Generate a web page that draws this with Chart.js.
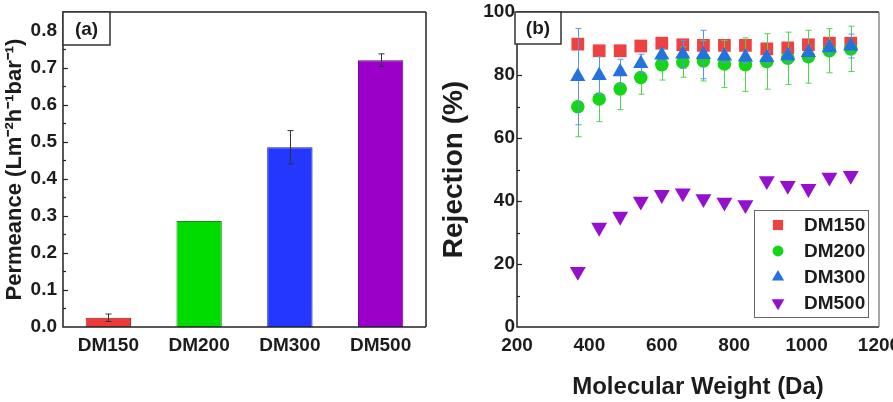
<!DOCTYPE html>
<html>
<head>
<meta charset="utf-8">
<script src="https://cdn.jsdelivr.net/npm/chart.js@4.4.0/dist/chart.umd.min.js"></script>
<style>
  html, body { margin: 0; padding: 0; background: #fff; }
  #wrap { position: relative; width: 893px; height: 402px; overflow: hidden; }
  .panel { position: absolute; top: 0; height: 402px; }
  #panelA { left: 0; width: 440px; }
  #panelB { left: 440px; width: 453px; }
</style>
</head>
<body>
<div id="wrap">
  <div class="panel" id="panelA"><canvas id="chartA"></canvas></div>
  <div class="panel" id="panelB"><canvas id="chartB"></canvas></div>
</div>
<script>
// ---- panel (a): permeance bars ----
const membranes = ["DM150", "DM200", "DM300", "DM500"];
const permeance = [0.025, 0.286, 0.485, 0.72];
const permeanceErr = [0.01, 0, 0.045, 0.017];
const permTicks = [0, 0.1, 0.2, 0.3, 0.4, 0.5, 0.6, 0.7, 0.8];

// ---- panel (b): rejection vs molecular weight ----
const molWeight = [368, 427, 485, 542, 600, 658, 715, 773, 831, 890, 948, 1005, 1063, 1122];
const rejDM150 = [89.8, 87.7, 87.7, 89.2, 90.1, 89.6, 89.4, 89.4, 89.4, 88.3, 88.6, 89.6, 90.1, 90.1];
const rejDM200 = [69.9, 72.4, 75.6, 79.2, 83.3, 84.1, 84.5, 83.5, 83.3, 84.3, 85.3, 85.8, 87.7, 88.3];
const rejDM300 = [79.5, 79.8, 81.0, 83.6, 86.3, 86.6, 86.5, 86.0, 85.7, 85.5, 86.1, 87.1, 88.6, 89.2];
const rejDM500 = [17.6, 31.6, 35.1, 39.9, 42.0, 42.5, 40.7, 39.6, 38.8, 46.4, 44.9, 43.9, 47.5, 48.1];
const errDM150 = [1, 1, 1, 1, 1, 1, 1, 1, 1, 1, 1, 1, 1, 1];
const errDM200 = [9.5, 7.2, 6.6, 5.3, 4.9, 4.8, 6.4, 7.5, 8.5, 8.8, 8.3, 8.4, 7.0, 7.2];
const errDM300 = [15.3, 6, 4, 3, 2, 4.4, 7.7, 2, 2, 2, 2, 2, 2, 3.8];
const mwTicks = [200, 400, 600, 800, 1000, 1200];
const rejTicks = [0, 20, 40, 60, 80, 100];

// ---- look ----
const FONT = '"Liberation Sans", Arial, sans-serif';
const INK = "#1c1c1c";
const barFill = ["#ee3a3a", "#00dc00", "#2337ff", "#9a00c8"];
const barEdge = ["#a82020", "#109010", "#1a2599", "#5e0080"];
const SERIES = {
  DM150: { color: "#ee4242", err: "#f07070", style: "rect", radius: 9, rot: 0 },
  DM200: { color: "#14d614", err: "#4fd64f", style: "circle", radius: 6.8, rot: 0 },
  DM300: { color: "#2473dc", err: "#5a96e4", style: "triangle", radius: 8.8, rot: 0 },
  DM500: { color: "#9410cc", err: "#9410cc", style: "triangle", radius: 9.2, rot: 180 },
};
const bold = (size, lineHeight) => ({ family: FONT, size, weight: "bold", lineHeight: lineHeight || 1.2 });

//-------------------------------------
// Plugins
//-------------------------------------
// frame, inward y ticks, panel tag
const framePlugin = {
  id: "frame",
  afterDraw(chart, args, o) {
    const { ctx, chartArea: ca } = chart;
    const y = chart.scales.y;
    ctx.save();
    ctx.lineWidth = 1.5;
    ctx.strokeStyle = "#222";
    ctx.beginPath();
    ctx.moveTo(ca.right, ca.top);
    ctx.lineTo(ca.left, ca.top);
    ctx.lineTo(ca.left, ca.bottom);
    ctx.lineTo(ca.right, ca.bottom);
    ctx.stroke();
    ctx.strokeStyle = o.rightColor || "#222";
    ctx.beginPath();
    ctx.moveTo(ca.right, ca.top);
    ctx.lineTo(ca.right, ca.bottom);
    ctx.stroke();

    // inward ticks on the left axis
    ctx.strokeStyle = "#222";
    ctx.lineWidth = 1.2;
    const n = Math.round((y.max - y.min) / o.minor);
    for (let i = 1; i < n; i++) {
      const v = y.min + i * o.minor;
      const py = Math.round(y.getPixelForValue(v)) + 0.5;
      const len = i % o.majorEvery === 0 ? 5 : 3;
      ctx.beginPath();
      ctx.moveTo(ca.left, py);
      ctx.lineTo(ca.left + len, py);
      ctx.stroke();
    }

    // tag box "(a)" / "(b)"
    const bx = ca.left + o.tagDx;
    ctx.fillStyle = "#fff";
    ctx.fillRect(bx, ca.top, o.tagW, o.tagH);
    ctx.strokeStyle = "#333";
    ctx.lineWidth = 1.5;
    ctx.strokeRect(bx, ca.top, o.tagW, o.tagH);
    ctx.fillStyle = INK;
    ctx.font = `bold 19px ${FONT}`;
    ctx.textAlign = "center";
    ctx.textBaseline = "middle";
    ctx.fillText(o.tag, bx + o.tagW / 2, ca.top + o.tagH / 2 + 1);
    ctx.restore();
  },
};

function drawErrors(chart, index, o) {
  const ds = chart.data.datasets[index];
  if (!ds.errors) return;
  const meta = chart.getDatasetMeta(index);
  const y = chart.scales.y;
  const { ctx } = chart;
  ctx.save();
  ctx.strokeStyle = ds.errorColor || "#333";
  ctx.lineWidth = 1;
  meta.data.forEach((el, i) => {
    const e = ds.errors[i];
    if (!e) return;
    const v = ds.data[i];
    const val = typeof v === "object" ? v.y : v;
    const top = y.getPixelForValue(val + e);
    const bot = y.getPixelForValue(val - e);
    const x = Math.round(el.x) + 0.5;
    ctx.beginPath();
    ctx.moveTo(x, top);
    ctx.lineTo(x, bot);
    ctx.moveTo(x - o.cap, top);
    ctx.lineTo(x + o.cap, top);
    ctx.moveTo(x - o.cap, bot);
    ctx.lineTo(x + o.cap, bot);
    ctx.stroke();
  });
  ctx.restore();
}

const errorBarPlugin = {
  id: "errorBars",
  beforeDatasetDraw(chart, args, o) {
    if (o.under) drawErrors(chart, args.index, o);
  },
  afterDatasetDraw(chart, args, o) {
    if (!o.under) drawErrors(chart, args.index, o);
  },
};

// boxed legend inside the plot of panel (b)
const boxLegendPlugin = {
  id: "boxLegend",
  afterDraw(chart, args, o) {
    const { ctx, chartArea: ca } = chart;
    const left = ca.right - o.right - o.w;
    const top = ca.bottom - o.bottom - o.h;
    ctx.save();
    ctx.fillStyle = "#fff";
    ctx.fillRect(left, top, o.w, o.h);
    ctx.strokeStyle = "#666";
    ctx.lineWidth = 1;
    ctx.strokeRect(left + 0.5, top + 0.5, o.w, o.h);
    ctx.font = `bold 19px ${FONT}`;
    ctx.textBaseline = "middle";
    ctx.textAlign = "left";
    chart.data.datasets.forEach((ds, i) => {
      const s = SERIES[ds.label];
      const cy = top + 15 + i * 26;
      ctx.fillStyle = s.color;
      Chart.helpers.drawPoint(ctx, { pointStyle: s.style, rotation: s.rot, radius: s.radius * 0.8, borderWidth: 0 }, left + 24, cy);
      ctx.fillStyle = INK;
      ctx.fillText(ds.label, left + 50, cy + 1);
    });
    ctx.restore();
  },
};

//-------------------------------------
// Panel (a)
//-------------------------------------
new Chart(document.getElementById("chartA"), {
  type: "bar",
  data: {
    labels: membranes,
    datasets: [
      {
        label: "Permeance",
        data: permeance,
        errors: permeanceErr,
        errorColor: "#333",
        backgroundColor: barFill,
        borderColor: barEdge,
        borderWidth: 1,
        barPercentage: 0.5,
        categoryPercentage: 1,
      },
    ],
  },
  options: {
    responsive: true,
    maintainAspectRatio: false,
    animation: false,
    devicePixelRatio: 1,
    layout: { padding: { left: 0, right: 14, top: 12, bottom: 0 } },
    scales: {
      x: {
        grid: { display: false, drawTicks: false },
        border: { display: false },
        ticks: { color: INK, font: bold(19), padding: 7 },
        afterFit: (s) => { s.height = 75; s.paddingLeft = 0; s.paddingRight = 0; },
      },
      y: {
        min: 0,
        max: 0.85,
        grid: { display: false, drawTicks: false },
        border: { display: false },
        afterBuildTicks: (s) => { s.ticks = permTicks.map((v) => ({ value: v })); },
        ticks: { color: INK, font: bold(19), padding: 6, callback: (v) => v.toFixed(1) },
        title: { display: true, text: "Permeance (Lm\u207B\u00B2h\u207B\u00B9bar\u207B\u00B9)", color: INK, font: bold(22, 1), padding: { top: 4 } },
        afterFit: (s) => { s.width = 63; s.paddingTop = 0; s.paddingBottom = 0; },
      },
    },
    plugins: {
      legend: { display: false },
      tooltip: { enabled: false },
      frame: { minor: 0.05, majorEvery: 2, tag: "(a)", tagDx: 0, tagW: 47, tagH: 33 },
      errorBars: { under: false, cap: 3 },
    },
  },
  plugins: [framePlugin, errorBarPlugin],
});

//-------------------------------------
// Panel (b)
//-------------------------------------
const toPoints = (ys) => molWeight.map((x, i) => ({ x, y: ys[i] }));
const seriesDataset = (label, ys, errs, order) => {
  const s = SERIES[label];
  return {
    label,
    data: toPoints(ys),
    errors: errs,
    errorColor: s.err,
    order,
    pointStyle: s.style,
    rotation: s.rot,
    radius: s.radius,
    backgroundColor: s.color,
    borderColor: s.color,
    borderWidth: 0,
  };
};

new Chart(document.getElementById("chartB"), {
  type: "scatter",
  data: {
    datasets: [
      seriesDataset("DM150", rejDM150, errDM150, 4),
      seriesDataset("DM200", rejDM200, errDM200, 3),
      seriesDataset("DM300", rejDM300, errDM300, 2),
      seriesDataset("DM500", rejDM500, null, 1),
    ],
  },
  options: {
    responsive: true,
    maintainAspectRatio: false,
    animation: false,
    devicePixelRatio: 1,
    layout: { padding: { left: 0, right: 14, top: 12, bottom: 0 } },
    scales: {
      x: {
        type: "linear",
        min: 200,
        max: 1200,
        grid: { display: false, drawTicks: false },
        border: { display: false },
        afterBuildTicks: (s) => { s.ticks = mwTicks.map((v) => ({ value: v })); },
        ticks: { color: INK, font: bold(19), padding: 7, maxRotation: 0, callback: (v) => String(v) },
        title: { display: true, text: "Molecular Weight (Da)", color: INK, font: bold(24), padding: { top: 0, bottom: 0 } },
        afterFit: (s) => { s.height = 75; s.paddingLeft = 0; s.paddingRight = 0; },
      },
      y: {
        min: 0,
        max: 100,
        grid: { display: false, drawTicks: false },
        border: { display: false },
        afterBuildTicks: (s) => { s.ticks = rejTicks.map((v) => ({ value: v })); },
        ticks: { color: INK, font: bold(19), padding: 2 },
        title: { display: true, text: "Rejection (%)", color: INK, font: bold(28, 1), padding: { top: 0 } },
        afterFit: (s) => { s.width = 77; s.paddingTop = 0; s.paddingBottom = 0; },
      },
    },
    plugins: {
      legend: { display: false },
      tooltip: { enabled: false },
      frame: { minor: 10, majorEvery: 2, tag: "(b)", tagDx: -2, tagW: 46, tagH: 32, rightColor: "#8a8a8a" },
      errorBars: { under: true, cap: 3 },
      boxLegend: { w: 114, h: 107, right: 11, bottom: 10 },
    },
  },
  plugins: [framePlugin, errorBarPlugin, boxLegendPlugin],
});
</script>
</body>
</html>
